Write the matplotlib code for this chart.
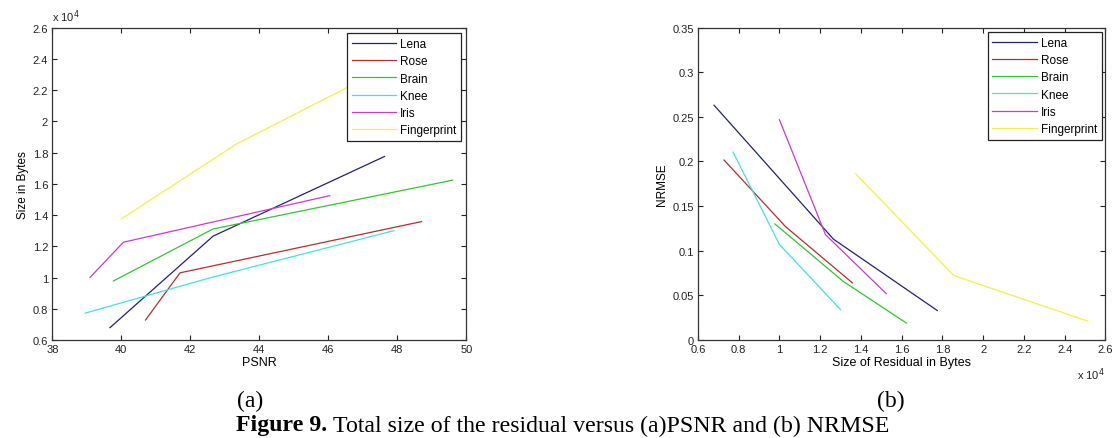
import numpy as np
import matplotlib
matplotlib.use("Agg")
import matplotlib.pyplot as plt
from matplotlib.ticker import FuncFormatter, MultipleLocator

# ---- data ----
names = ['Lena', 'Rose', 'Brain', 'Knee', 'Iris', 'Fingerprint']
colors = ['#22226e', '#b03030', '#33c433', '#44e0e0', '#c83cc8', '#f2f04a']

size_lena = [6790, 12650, 17750]
size_rose = [7280, 10300, 13580]
size_brain = [9780, 13110, 16230]
size_knee = [7720, 10000, 13000]
size_iris = [10000, 12260, 15240]
size_finger = [13750, 18550, 25150]

psnr_lena = [39.67, 42.66, 47.63]
psnr_rose = [40.70, 41.70, 48.70]
psnr_brain = [39.77, 42.66, 49.60]
psnr_knee = [38.95, 42.60, 47.90]
psnr_iris = [39.09, 40.06, 46.04]
psnr_finger = [40.00, 43.34, 49.20]

nrmse_lena = [0.263, 0.113, 0.033]
nrmse_rose = [0.2016, 0.127, 0.064]
nrmse_brain = [0.130, 0.066, 0.019]
nrmse_knee = [0.2106, 0.107, 0.034]
nrmse_iris = [0.2467, 0.118, 0.052]
nrmse_finger = [0.186, 0.0723, 0.021]

sizes = [size_lena, size_rose, size_brain, size_knee, size_iris, size_finger]
psnrs = [psnr_lena, psnr_rose, psnr_brain, psnr_knee, psnr_iris, psnr_finger]
nrmses = [nrmse_lena, nrmse_rose, nrmse_brain, nrmse_knee, nrmse_iris, nrmse_finger]

plt.rcParams['font.family'] = ['Liberation Sans', 'DejaVu Sans']
plt.rcParams['font.size'] = 8

fig = plt.figure(figsize=(11.16, 4.39), dpi=100)
ax1 = fig.add_axes([0.0469, 0.2232, 0.371, 0.7118])
ax2 = fig.add_axes([0.6254, 0.2232, 0.3651, 0.7118])

sci = FuncFormatter(lambda v, p: '%g' % round(v / 1e4, 4))
plain = FuncFormatter(lambda v, p: '%g' % round(v, 4))


def style(ax):
    ax.tick_params(direction='in', length=3.5, width=0.8, top=True, right=True,
                   labelsize=8, colors='#222222', pad=3)
    for sp in ax.spines.values():
        sp.set_linewidth(0.9)
        sp.set_color('#333333')


def add_legend(ax, anchor):
    leg = ax.legend(loc='upper right', bbox_to_anchor=anchor, fontsize=8.5,
                    fancybox=False, edgecolor='#222222', framealpha=1,
                    handlelength=3.8, handletextpad=0.3, borderpad=0.4,
                    labelspacing=0.45, borderaxespad=0)
    leg.get_frame().set_linewidth(0.9)


# (a) PSNR vs size
for n, c, x, y in zip(names, colors, psnrs, sizes):
    ax1.plot(x, y, color=c, lw=0.9, label=n)
ax1.set_xlim(38, 50)
ax1.set_ylim(6000, 26000)
ax1.xaxis.set_major_locator(MultipleLocator(2))
ax1.yaxis.set_major_locator(MultipleLocator(2000))
ax1.yaxis.set_major_formatter(sci)
ax1.xaxis.set_major_formatter(plain)
ax1.set_xlabel('PSNR', fontsize=9, labelpad=1)
ax1.set_ylabel('Size in Bytes', fontsize=8.5, labelpad=3)
style(ax1)
fig.text(52 / 1116, 1 - 17 / 439, r'x 10$^4$', fontsize=8, va='center', ha='left', color='#222222')
add_legend(ax1, (0.987, 0.982))

# (b) size vs NRMSE
for n, c, x, y in zip(names, colors, sizes, nrmses):
    ax2.plot(x, y, color=c, lw=0.9, label=n)
ax2.set_xlim(6000, 26000)
ax2.set_ylim(0, 0.35)
ax2.xaxis.set_major_locator(MultipleLocator(2000))
ax2.yaxis.set_major_locator(MultipleLocator(0.05))
ax2.xaxis.set_major_formatter(sci)
ax2.yaxis.set_major_formatter(plain)
ax2.set_xlabel('Size of Residual in Bytes', fontsize=9, labelpad=1)
ax2.set_ylabel('NRMSE', fontsize=8.5, labelpad=3)
style(ax2)
fig.text(1077 / 1116, 1 - 375 / 439, r'x 10$^4$', fontsize=8, va='center', ha='left', color='#222222')
add_legend(ax2, (0.991, 0.986))

# captions
serif = ['Liberation Serif', 'DejaVu Serif']
fig.text(237 / 1116, 1 - 401 / 439, '(a)', family=serif, fontsize=17, ha='left', va='center')
fig.text(905 / 1116, 1 - 401 / 439, '(b)', family=serif, fontsize=17, ha='right', va='center')
bold = fig.text(236 / 1116, 1 - 426 / 439, 'Figure 9. ', family=serif, fontsize=17.2,
                fontweight='bold', ha='left', va='center')
r = fig.canvas.get_renderer()
bb = bold.get_window_extent(renderer=r)
fig.text(bb.x1 / fig.bbox.width, 1 - 426 / 439,
         'Total size of the residual versus (a)PSNR and (b) NRMSE',
         family=serif, fontsize=17.2, ha='left', va='center')

fig.savefig('out.png', dpi=100)
